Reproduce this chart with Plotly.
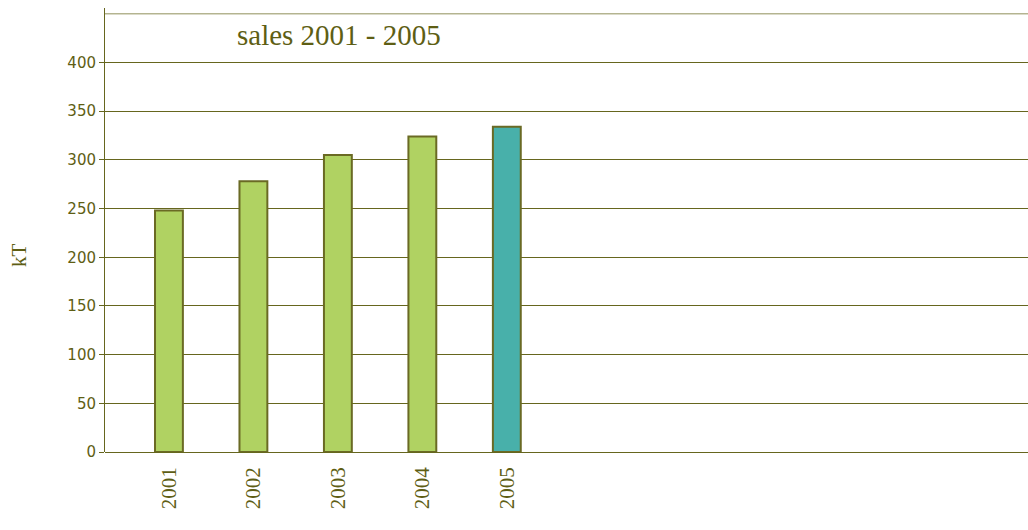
import plotly.graph_objects as go

years = ["2001", "2002", "2003", "2004", "2005"]
sales = [248, 278, 305, 324, 334]
bar_colors = ["#b0d262", "#b0d262", "#b0d262", "#b0d262", "#48b0aa"]
y_ticks = [0, 50, 100, 150, 200, 250, 300, 350, 400]

olive = "#5e5e14"
grid = "#66661e"

xpos = list(range(len(years)))

fig = go.Figure()
fig.add_trace(go.Bar(
    x=xpos, y=sales, width=0.33,
    marker=dict(color=bar_colors, line=dict(color="#6a6a24", width=2)),
    hoverinfo="skip",
))

fig.update_layout(
    width=1028, height=530,
    margin=dict(l=105, r=0, t=8, b=78),
    paper_bgcolor="white", plot_bgcolor="white",
    showlegend=False,
    xaxis=dict(
        range=[-0.757, 10.17], automargin=False,
        tickvals=xpos, ticktext=years, tickangle=-90, ticklabelstandoff=10,
        tickfont=dict(family="Liberation Serif", size=21, color=olive),
        showgrid=False, zeroline=False, showline=False, ticks="",
    ),
    yaxis=dict(
        range=[0, 456], automargin=False,
        tickvals=y_ticks,
        tickfont=dict(family="DejaVu Sans", size=15, color=olive),
        ticks="outside", ticklen=5, tickcolor=grid,
        showgrid=True, gridcolor=grid, gridwidth=1,
        showline=True, linecolor=grid, linewidth=1,
        zeroline=True, zerolinecolor=grid, zerolinewidth=1,
    ),
    shapes=[dict(type="line", xref="paper", yref="y", x0=0, x1=1, y0=450, y1=450,
                 line=dict(color="#8f8f5a", width=1))],
    annotations=[
        dict(text="sales 2001 - 2005", xref="paper", yref="paper",
             x=(339 - 105) / 923, y=(452 - 35) / 444, xanchor="center", yanchor="middle",
             showarrow=False,
             font=dict(family="Liberation Serif", size=29, color=olive)),
        dict(text="kT", xref="paper", yref="paper",
             x=(19 - 105) / 923, y=(452 - 255) / 444, xanchor="center", yanchor="middle",
             textangle=-90, showarrow=False,
             font=dict(family="Liberation Serif", size=21, color=olive)),
    ],
)

fig.write_html("out.html",
               config={"displayModeBar": False},
               post_script="document.body.style.margin='0';document.body.style.overflow='hidden';")
